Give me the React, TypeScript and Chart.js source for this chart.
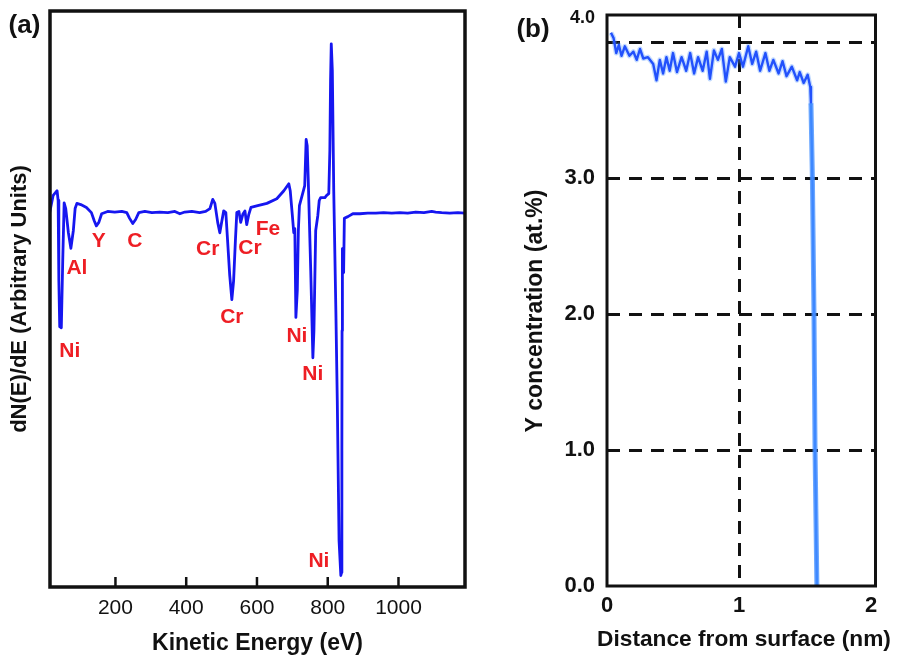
import React, { useEffect, useRef } from 'react';
import { Chart, registerables } from 'chart.js';

Chart.register(...registerables);

const FONT = "'Liberation Sans', Arial, Helvetica, sans-serif";

// ---------- Panel (a): Auger spectrum ----------
const energyEV = [
  14, 24, 35, 38, 40, 42.5, 47, 51, 55, 59.5,
  67, 74, 81, 86, 91, 102, 118, 132, 140, 146,
  153, 161, 178, 198, 218, 232, 240, 249, 257, 266,
  283, 303, 325, 348, 368, 382, 396, 416, 438, 455,
  467, 475, 481, 489, 495, 500, 506, 512, 517, 523,
  529, 534, 539, 543, 549, 554, 560, 566, 571, 577,
  583, 602, 628, 656, 676, 690, 694, 700, 704, 707,
  710, 714, 717, 720, 730, 735, 739, 742, 745, 752,
  758, 761, 766, 772, 776, 780, 792, 797, 803, 806,
  808, 810, 813, 817, 823, 827, 832, 837, 839, 840,
  840.5, 841, 842, 843.5, 845, 847, 857, 871, 891, 913,
  936, 958, 981, 1004, 1026, 1049, 1072, 1094, 1105, 1122,
  1145, 1168, 1187,
];
const dNdE = [
  0, 3.0, 3.8, 2.1, -11.8, -19.8, -20.0, -8.3, 1.7, 0.7,
  -3.5, -6.2, -3.1, 0.7, 1.6, 1.4, 0.9, 0, -1.4, -2.3,
  -1.7, -0.2, 0.2, 0.1, 0.2, 0, -1.0, -1.9, -1.2, 0,
  0.2, 0, 0.1, 0.0, 0.2, -0.2, 0.1, 0.2, 0.0, 0.2,
  0.7, 2.3, 1.6, -1.7, -3.5, -1.7, 0.3, 0, -4.9, -10.9,
  -15.1, -11.8, -4.9, 0, 0.2, -1.7, -0.3, 0.3, -2.1, -0.3,
  0.9, 1.2, 1.6, 2.4, 3.8, 5.0, 3.8, -0.5, -3.5, -2.8,
  -18.2, -13.5, -3.1, 1.2, 3.5, 4.7, 12.7, 11.6, 5.6, -10.1,
  -25.2, -20.5, -3.1, -0.5, 2.1, 2.6, 2.6, 3.0, 3.3, 10.8,
  22.9, 29.3, 24.7, 3.8, -17.0, -32.6, -56.9, -63.0, -62.5, -41.3,
  -20.5, -6.6, -6.25, -10.4, -10.1, -1.0, -0.7, -0.2, -0.2, -0.1,
  -0.1, 0, -0.1, 0, -0.1, 0.1, 0, 0.2, 0.1, 0,
  -0.1, 0, -0.1,
];
const energyTicks = [200, 400, 600, 800, 1000];
const peakNames = ['Ni', 'Al', 'Y', 'C', 'Cr', 'Cr', 'Fe', 'Cr', 'Ni', 'Ni', 'Ni'];
const peakLabelEV = [71, 91, 153, 255, 461, 580, 631, 529, 713, 758, 775];
const peakLabelY = [-24.0, -9.7, -5.0, -5.0, -6.4, -6.25, -2.8, -18.1, -21.5, -28.1, -60.6];

// ---------- Panel (b): Y depth profile ----------
const depthNm = [
  0.03, 0.05, 0.07, 0.09, 0.11, 0.135, 0.17, 0.2, 0.225, 0.25,
  0.275, 0.31, 0.35, 0.375, 0.4, 0.425, 0.45, 0.475, 0.5, 0.53,
  0.565, 0.6, 0.63, 0.66, 0.69, 0.725, 0.755, 0.78, 0.81, 0.84,
  0.87, 0.9, 0.93, 0.97, 1.0, 1.03, 1.07, 1.1, 1.13, 1.16,
  1.2, 1.23, 1.26, 1.3, 1.33, 1.36, 1.4, 1.44, 1.46, 1.49,
  1.52, 1.54, 1.545, 1.556, 1.568, 1.576, 1.59,
];
const yConcentration = [
  4.07, 4.03, 3.92, 3.98, 3.9, 3.97, 3.9, 3.93, 3.87, 3.95,
  3.88, 3.89, 3.84, 3.72, 3.87, 3.77, 3.89, 3.79, 3.92, 3.78,
  3.89, 3.79, 3.92, 3.77, 3.89, 3.79, 3.93, 3.73, 3.94, 3.87,
  3.95, 3.71, 3.89, 3.82, 3.92, 3.82, 3.97, 3.84, 3.93, 3.79,
  3.92, 3.79, 3.87, 3.77, 3.86, 3.75, 3.82, 3.72, 3.78, 3.7,
  3.76, 3.67, 3.55, 3.0, 2.0, 1.0, 0.0,
];
const depthTicks = [0, 1, 2];
const depthGridAt = [1];
const concTicks = [0, 1, 2, 3, 4];
const concGridAt = [1, 2, 3, 4];
const CONC_TOP_LABEL_POS = 4.18; // where the "4.0" label sits in the figure

const INK = '#111';
const RED = 'rgb(238,30,36)';

const frameA = {
  id: 'frameA',
  afterDatasetsDraw(chart: any) {
    const { ctx, chartArea: a, scales } = chart;
    const x = scales.x;
    ctx.save();
    ctx.strokeStyle = INK;
    ctx.lineWidth = 2.5;
    x.ticks.forEach((t: any) => {
      const px = x.getPixelForValue(t.value);
      ctx.beginPath();
      ctx.moveTo(px, a.bottom);
      ctx.lineTo(px, a.bottom - 10);
      ctx.stroke();
    });
    ctx.lineWidth = 3.5;
    ctx.strokeRect(a.left, a.top, a.right - a.left, a.bottom - a.top);
    // peak labels
    ctx.fillStyle = RED;
    ctx.font = `bold 21px ${FONT}`;
    ctx.textAlign = 'center';
    ctx.textBaseline = 'middle';
    peakNames.forEach((n, i) => {
      ctx.fillText(n, x.getPixelForValue(peakLabelEV[i]), scales.y.getPixelForValue(peakLabelY[i]));
    });
    ctx.fillStyle = INK;
    ctx.font = `bold 26px ${FONT}`;
    ctx.fillText('(a)', 24.5, 26);
    ctx.restore();
  },
};

const frameB = {
  id: 'frameB',
  afterDraw(chart: any) {
    const { ctx, chartArea: a } = chart;
    ctx.save();
    ctx.strokeStyle = INK;
    ctx.lineWidth = 3;
    ctx.strokeRect(a.left, a.top, a.right - a.left, a.bottom - a.top);
    ctx.fillStyle = INK;
    ctx.textAlign = 'center';
    ctx.textBaseline = 'middle';
    ctx.font = `bold 26px ${FONT}`;
    ctx.fillText('(b)', 43, 30);
    // axis titles (wider than the plot box in the original, so drawn here)
    ctx.font = `bold 22.7px ${FONT}`;
    ctx.fillText('Distance from surface (nm)', 254, 640);
    ctx.translate(46, 311);
    ctx.rotate(-Math.PI / 2);
    ctx.font = `bold 23px ${FONT}`;
    ctx.fillText('Y concentration (at.%)', 0, 0);
    ctx.restore();
  },
};

const noPad = (s: any) => {
  s.paddingTop = 0;
  s.paddingBottom = 0;
  s.paddingLeft = 0;
  s.paddingRight = 0;
};

export default function App() {
  const refA = useRef<HTMLCanvasElement>(null);
  const refB = useRef<HTMLCanvasElement>(null);

  useEffect(() => {
    const spectrum = energyEV.map((e, i) => ({ x: e, y: dNdE[i] }));
    const chartA = new Chart(refA.current as HTMLCanvasElement, {
      type: 'line',
      data: {
        datasets: [
          {
            data: spectrum,
            borderColor: 'rgb(22,22,240)',
            borderWidth: 2.8,
            pointRadius: 0,
            tension: 0,
            borderJoinStyle: 'round',
            borderCapStyle: 'round',
          },
        ],
      },
      options: {
        responsive: false,
        animation: false,
        events: [],
        layout: { padding: { left: 0, top: 11, right: 25, bottom: 0 } },
        plugins: { legend: { display: false }, tooltip: { enabled: false } },
        scales: {
          x: {
            type: 'linear',
            min: 15,
            max: 1188,
            afterBuildTicks: (s: any) => {
              s.ticks = energyTicks.map((v) => ({ value: v }));
            },
            afterFit: (s: any) => {
              s.height = 73;
              noPad(s);
            },
            grid: { display: false, drawTicks: false },
            border: { display: false },
            ticks: {
              font: { family: FONT, size: 21 },
              color: INK,
              padding: 9,
              maxRotation: 0,
              autoSkip: false,
              callback: (v: any) => String(v),
            },
            title: {
              display: true,
              text: 'Kinetic Energy (eV)',
              font: { family: FONT, size: 23, weight: 'bold' },
              color: INK,
              padding: { top: 0, bottom: 2.5 },
            },
          },
          y: {
            type: 'linear',
            min: -65,
            max: 35,
            afterFit: (s: any) => {
              s.width = 50;
              noPad(s);
            },
            grid: { display: false, drawTicks: false },
            border: { display: false },
            ticks: { display: false },
            title: {
              display: true,
              text: 'dN(E)/dE (Arbitrary Units)',
              font: { family: FONT, size: 22, weight: 'bold' },
              color: INK,
              padding: { top: 7, bottom: 0 },
            },
          },
        },
      } as any,
      plugins: [frameA],
    });

    const profile = depthNm.map((d, i) => ({ x: d, y: yConcentration[i] }));
    const dropColor = (c: any, steep: string, flat: string) =>
      c.p1 && c.p1.parsed.y < 3.4 ? steep : flat;
    const chartB = new Chart(refB.current as HTMLCanvasElement, {
      type: 'line',
      data: {
        datasets: [
          {
            data: profile,
            borderColor: 'rgba(80,150,255,0.45)',
            borderWidth: 5,
            pointRadius: 0,
            tension: 0,
            borderJoinStyle: 'round',
            segment: {
              borderColor: (c: any) => dropColor(c, 'rgba(70,145,255,0.8)', 'rgba(80,150,255,0.35)'),
            },
          },
          {
            data: profile,
            borderColor: 'rgb(10,45,250)',
            borderWidth: 2.4,
            pointRadius: 0,
            tension: 0,
            borderJoinStyle: 'round',
            segment: {
              borderColor: (c: any) => dropColor(c, 'rgb(30,100,255)', 'rgb(10,45,250)'),
            },
          },
        ],
      },
      options: {
        responsive: false,
        animation: false,
        events: [],
        layout: { padding: { left: 0, top: 15, right: 23.5, bottom: 0 } },
        plugins: { legend: { display: false }, tooltip: { enabled: false } },
        scales: {
          x: {
            type: 'linear',
            min: 0,
            max: 2.034,
            z: 1,
            afterBuildTicks: (s: any) => {
              s.ticks = depthTicks.map((v) => ({ value: v }));
            },
            afterFit: (s: any) => {
              s.height = 74;
              noPad(s);
            },
            grid: {
              drawTicks: false,
              lineWidth: 3,
              color: (c: any) =>
                c.tick && depthGridAt.includes(c.tick.value) ? INK : 'rgba(0,0,0,0)',
            },
            border: { display: false, dash: [13, 9] },
            ticks: {
              font: { family: FONT, size: 22, weight: 'bold' },
              color: INK,
              padding: 7,
              maxRotation: 0,
              autoSkip: false,
              callback: (v: any) => String(v),
            },
            title: { display: false },
          },
          y: {
            type: 'linear',
            min: 0,
            max: 4.2,
            z: 1,
            afterBuildTicks: (s: any) => {
              s.ticks = [...concTicks.map((v) => ({ value: v })), { value: CONC_TOP_LABEL_POS }];
            },
            afterFit: (s: any) => {
              s.width = 117;
              noPad(s);
            },
            grid: {
              drawTicks: false,
              lineWidth: 3,
              color: (c: any) =>
                c.tick && concGridAt.includes(c.tick.value) ? INK : 'rgba(0,0,0,0)',
            },
            border: { display: false, dash: [13, 9] },
            ticks: {
              font: (c: any) => ({
                family: FONT,
                size: c.tick && c.tick.value === CONC_TOP_LABEL_POS ? 18 : 22,
                weight: 'bold',
              }),
              color: INK,
              padding: 12,
              autoSkip: false,
              callback: (v: any) => {
                if (v === CONC_TOP_LABEL_POS) return '4.0';
                if (v === 4) return '';
                return Number(v).toFixed(1);
              },
            },
            title: { display: false },
          },
        },
      } as any,
      plugins: [frameB],
    });

    return () => {
      chartA.destroy();
      chartB.destroy();
    };
  }, []);

  return (
    <div style={{ position: 'absolute', left: 0, top: 0, width: 899, height: 660, background: '#fff' }}>
      <canvas ref={refA} width={490} height={660} style={{ position: 'absolute', left: 0, top: 0 }} />
      <canvas ref={refB} width={409} height={660} style={{ position: 'absolute', left: 490, top: 0 }} />
    </div>
  );
}
